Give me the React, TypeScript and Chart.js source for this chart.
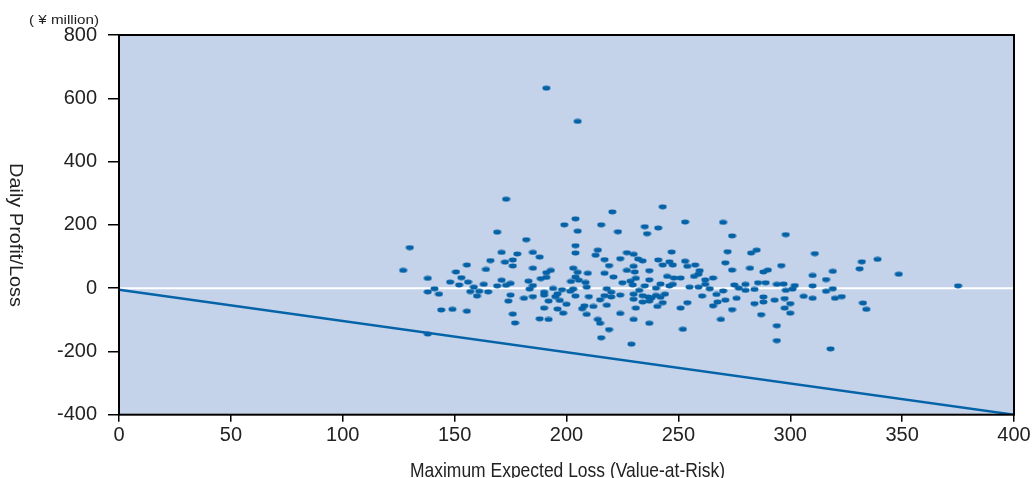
import React, { useEffect, useRef } from "react";
import { Chart, registerables } from "chart.js";

Chart.register(...registerables);

// Value-at-Risk (x) and daily profit/loss (y), ¥ million
const varValues = [
  173, 130, 127, 169, 182, 171, 178, 172.5, 176, 176, 166, 155.5, 164, 150.6, 138, 153, 148, 156, 152, 171,
  169, 173, 175, 183, 163, 158.6, 141, 138, 143, 157, 161, 165, 160, 175, 174, 181, 183.5, 144, 149, 155.5,
  176, 177, 138,
  191, 205,
  220.5, 204, 199, 215.5, 205, 223, 235, 236, 241, 204, 204, 214, 213, 185, 188, 227, 230, 224, 217, 232,
  234, 241, 219, 230, 185, 203, 193, 191, 205, 209.5, 217, 227, 230.5, 237, 204, 191, 188.5, 221, 231, 202,
  205.5, 208.5, 225, 228.6, 237, 229.6, 209, 235, 185, 194, 198, 203, 201.7, 218, 232.5, 240, 190, 196, 220,
  230, 190, 185, 195, 204, 210, 217, 220, 224, 234, 236.5, 238, 240, 192, 197, 215, 230, 234, 237, 200,
  208, 212, 218, 240.6, 190, 196, 207, 231, 198.5, 209, 224, 188, 192, 214, 230, 215, 237, 219, 215.5, 229,
  243, 253, 270, 274, 298, 247, 272, 282.5, 285, 246, 253, 271, 243, 247.5, 254, 257.5, 296, 259.5, 274, 282,
  288, 290, 259, 257, 245, 248, 251, 262, 265.5, 262, 242, 246, 247.5, 275, 280, 285.6, 289, 294, 297, 255,
  259, 264, 277, 280, 284, 270, 298, 242, 244, 260.6, 267, 288, 243, 254, 271, 276, 267.5, 265.5, 284, 288,
  293, 297.5, 251, 274, 297.5, 300, 287, 269, 294, 252, 294,
  311, 332, 339, 331, 348.5, 319, 310, 316, 302, 310, 301, 319, 316, 375, 306, 310, 320, 323, 300, 332.5,
  334, 318,
];
const profitLoss = [
  281, 128, 56, 177, 153, 113, 108, 82, 89, 70, 87, 73, 59, 51, 31, 33, 19, 19, 10, 25,
  7, 9, 15, 22, 12, 3, -2, -12, -19, -11, -10, -12, -25, -22, -41, -32, -3, -69, -67, -73,
  -82, -110, -145,
  632, 527,
  241, 219, 200, 200, 180, 178, 194, 172, 190, 134, 111, 120, 104, 113, 98, 112, 107, 93, 90, 92,
  86, 89, 71, 69, 63, 63, 56, 49, 50, 47, 47, 56, 51, 55, 35, 34, 30, 35, 31, 21,
  25, 18, 17, 22, 26, 10, 3, 7, 8, -1, -5, -3, -10, -2, -7, 0, -13, -18, -13,
  -19, -22, -27, -27, -25, -27, -24, -28, -22, -24, -28, -31, -23, -41, -39, -37, -35, -44, -41, -51,
  -56, -58, -54, -58, -63, -66, -65, -63, -79, -83, -80, -97, -99, -99, -99, -111, -111, -131, -157, -177,
  257, 209, 208, 165, 169, 114, 115, 111, 120, 83, 85, 80, 73, 73, 69, 73, 71, 55, 57, 63,
  51, 57, 44, 37, 37, 32, 32, 26, 32, 12, 13, 7, 12, 10, 12, 17, 17, 12, 13, 3,
  3, -2, 0, -7, -4, -9, -7, -29, -19, -25, -20, -28, -46, -46, -38, -32, -44, -56, -49, -44,
  -38, -33, -63, -68, -63, -79, -84, -99, -119, -130, -166,
  109, 83, 91, 61, 44, 53, 40, 27, 8, 7, -3, -2, -10, 7, -26, -32, -32, -27, -49, -47,
  -67, -192,
];

// Loss limit line (profit/loss = -VaR)
const lineX = [0, 400];
const lineY = [-5, -400];

const xTicks = [0, 50, 100, 150, 200, 250, 300, 350, 400];
const yTicks = [-400, -200, 0, 200, 400, 600, 800];

const unitLabel = "( ¥ million)";
const xTitle = "Maximum Expected Loss (Value-at-Risk)";
const yTitle = "Daily Profit/Loss";

const DOT = "#0562a6";
const BG = "#c4d3ea";

function makeDot(): HTMLCanvasElement {
  const c = document.createElement("canvas");
  c.width = 9;
  c.height = 6;
  const g = c.getContext("2d")!;
  g.fillStyle = DOT;
  g.beginPath();
  g.ellipse(4.5, 3, 4, 2.4, 0, 0, Math.PI * 2);
  g.fill();
  return c;
}

function drawScaledText(
  ctx: CanvasRenderingContext2D,
  text: string,
  font: string,
  targetW: number,
  x: number,
  y: number,
  align: "left" | "center" | "right",
  rot = 0
) {
  ctx.save();
  ctx.font = font;
  const w = ctx.measureText(text).width;
  const s = targetW / w;
  ctx.translate(x, y);
  ctx.rotate(rot);
  ctx.scale(s, 1);
  ctx.textAlign = align;
  ctx.textBaseline = "alphabetic";
  ctx.fillStyle = "#222";
  ctx.fillText(text, 0, 0);
  ctx.restore();
}

const decorPlugin = {
  id: "decor",
  beforeDraw(chart: any) {
    const { ctx, chartArea: a } = chart;
    ctx.save();
    ctx.fillStyle = BG;
    ctx.fillRect(a.left, a.top, a.right - a.left, a.bottom - a.top);
    ctx.restore();
  },
  beforeDatasetsDraw(chart: any) {
    const { ctx, chartArea: a, scales } = chart;
    const y0 = scales.y.getPixelForValue(0);
    ctx.save();
    ctx.strokeStyle = "#ffffff";
    ctx.lineWidth = 2;
    ctx.beginPath();
    ctx.moveTo(a.left, y0);
    ctx.lineTo(a.right, y0);
    ctx.stroke();
    ctx.restore();
  },
  afterDraw(chart: any) {
    const { ctx, chartArea: a } = chart;
    ctx.save();
    ctx.strokeStyle = "#000";
    ctx.lineWidth = 2;
    ctx.strokeRect(a.left, a.top, a.right - a.left, a.bottom - a.top);
    ctx.restore();
    const fam = '"Liberation Sans", Arial, sans-serif';
    drawScaledText(ctx, unitLabel, `13px ${fam}`, 70, 99, 24, "right");
    drawScaledText(ctx, xTitle, `21px ${fam}`, 315, 567.5, 476.5, "center");
    drawScaledText(ctx, yTitle, `19px ${fam}`, 144, 9.5, 235, "center", Math.PI / 2);
  },
};

export default function App() {
  const ref = useRef<HTMLCanvasElement | null>(null);
  useEffect(() => {
    if (!ref.current) return;
    const dot = makeDot();
    const points = varValues.map((v, i) => ({ x: v, y: profitLoss[i] }));
    const line = lineX.map((v, i) => ({ x: v, y: lineY[i] }));
    const tickFont = { family: '"Liberation Sans", Arial, sans-serif', size: 20 };
    const chart = new Chart(ref.current, {
      type: "scatter",
      data: {
        datasets: [
          {
            type: "line",
            data: line,
            borderColor: "#0563a8",
            borderWidth: 2.5,
            pointRadius: 0,
            fill: false,
            order: 2,
          } as any,
          {
            data: points,
            pointStyle: dot as any,
            pointRadius: 4,
            order: 1,
          },
        ],
      },
      options: {
        animation: false,
        responsive: false,
        devicePixelRatio: 1,
        layout: { padding: { left: 0, top: 35, right: 21, bottom: 0 } },
        plugins: { legend: { display: false }, tooltip: { enabled: false } },
        scales: {
          x: {
            type: "linear",
            min: 0,
            max: 400,
            afterFit: (s: any) => {
              s.height = 63.3;
            },
            afterBuildTicks: (s: any) => {
              s.ticks = xTicks.map((v) => ({ value: v }));
            },
            grid: { drawOnChartArea: false, drawTicks: true, tickLength: 7, color: "#000", lineWidth: 1.5 },
            border: { display: false },
            ticks: { font: tickFont, color: "#222", padding: 2, maxRotation: 0 },
          },
          y: {
            type: "linear",
            min: -400,
            max: 800,
            afterFit: (s: any) => {
              s.width = 119;
            },
            afterBuildTicks: (s: any) => {
              s.ticks = yTicks.map((v) => ({ value: v }));
            },
            grid: { drawOnChartArea: false, drawTicks: true, tickLength: 11, color: "#000", lineWidth: 1.5 },
            border: { display: false },
            ticks: { font: tickFont, color: "#222", padding: 11 },
          },
        },
      },
      plugins: [decorPlugin],
    });
    return () => chart.destroy();
  }, []);
  return (
    <div style={{ position: "absolute", left: 0, top: 0, width: 1035, height: 478 }}>
      <canvas ref={ref} width={1035} height={478} style={{ display: "block" }} />
    </div>
  );
}
